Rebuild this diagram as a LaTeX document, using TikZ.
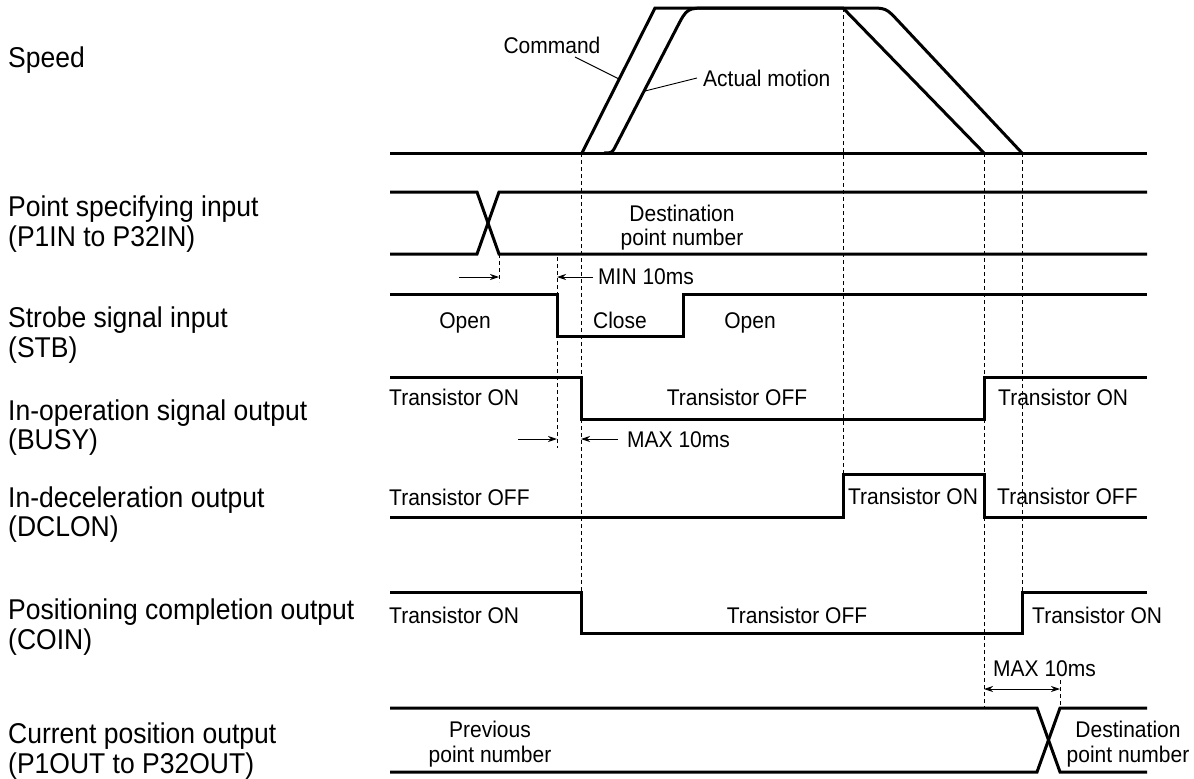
\documentclass[tikz,border=0pt]{standalone}
\usepackage{fontspec}
\usepackage{graphicx}
\setmainfont{Liberation Sans}
\usetikzlibrary{arrows.meta}
\newcommand{\tallt}[1]{\scalebox{1}[1.08]{#1}}
\begin{document}
\begin{tikzpicture}[x=1pt,y=-1pt,
  sig/.style={line width=3pt, line join=miter},
  guide/.style={line width=0.9pt, dash pattern=on 4pt off 3pt},
  lead/.style={line width=0.9pt},
  dimarrow/.style={line width=0.9pt, -{Stealth[length=9pt,width=6pt]}},
  dimboth/.style={line width=0.9pt, {Stealth[length=9pt,width=6pt]}-{Stealth[length=9pt,width=6pt]}},
  lbl/.style={font=\fontsize{26.5}{30}\selectfont, inner sep=0pt, anchor=base west},
  txt/.style={font=\fontsize{21}{25}\selectfont, inner sep=0pt, anchor=base},
  txtw/.style={font=\fontsize{21}{25}\selectfont, inner sep=0pt, anchor=base west}]
\useasboundingbox (0,0) rectangle (1194,779);

% ---------- left labels ----------
\node[lbl] (lSpeed) at (8,67) {\tallt{Speed}};
\node[lbl] (lPa) at (8,216) {\tallt{Point specifying input}};
\node[lbl] (lPb) at (8,246) {\tallt{(P1IN to P32IN)}};
\node[lbl] (lSa) at (8,327) {\tallt{Strobe signal input}};
\node[lbl] (lSb) at (8,357) {\tallt{(STB)}};
\node[lbl] (lBa) at (8,420) {\tallt{In-operation signal output}};
\node[lbl] (lBb) at (8,449) {\tallt{(BUSY)}};
\node[lbl] (lDa) at (8,507) {\tallt{In-deceleration output}};
\node[lbl] (lDb) at (8,536) {\tallt{(DCLON)}};
\node[lbl] (lCa) at (8,619) {\tallt{Positioning completion output}};
\node[lbl] (lCb) at (8,649) {\tallt{(COIN)}};
\node[lbl] (lQa) at (8,743) {\tallt{Current position output}};
\node[lbl] (lQb) at (8,773) {\tallt{(P1OUT to P32OUT)}};

% ---------- dashed guides ----------
\draw[guide] (499,254) -- (499,282);
\draw[guide] (557,257) -- (557,448);
\draw[guide] (581,153) -- (581,592);
\draw[guide] (843,8) -- (843,474);
\draw[guide] (984,153) -- (984,708);
\draw[guide] (1022,153) -- (1022,592);
\draw[guide] (1060,680) -- (1060,708);

% ---------- speed ----------
\draw[sig] (390,153) -- (1147,153);
\draw[sig] (582,153) -- (655,8) -- (843,8) -- (984,153);
\draw[sig] (604,153) .. controls (612,153) .. (615.7,145.9)
  -- (676.9,27.5) .. controls (687,8) .. (709,8)
  -- (868,8) .. controls (886,8) .. (898.3,21.1) -- (1022,153);
\node[txt] (tCmd) at (552,53) {\tallt{Command}};
\node[txtw] (tAct) at (703,86) {\tallt{Actual motion}};
\coordinate (cmdA) at (575,57);
\coordinate (cmdB) at (619,79);
\coordinate (actA) at (697,78);
\coordinate (actB) at (645,91);
\draw[lead] (cmdA) -- (cmdB);
\draw[lead] (actA) -- (actB);

% ---------- point specifying input ----------
\draw[sig] (390,192) -- (477,192) -- (499,254) -- (1147,254);
\draw[sig] (390,254) -- (477,254) -- (499,192) -- (1147,192);
\node[txt] (tDest1) at (682,221) {\tallt{Destination}};
\node[txt] (tDest2) at (682,245) {\tallt{point number}};

% MIN 10ms
\coordinate (minA0) at (459,277);
\coordinate (minA1) at (499,277);
\coordinate (minB0) at (593,277);
\coordinate (minB1) at (557,277);
\draw[dimarrow] (minA0) -- (minA1);
\draw[dimarrow] (minB0) -- (minB1);
\node[txtw] (tMin) at (598,284) {\tallt{MIN 10ms}};

% ---------- strobe ----------
\draw[sig] (390,294) -- (557,294) -- (557,336) -- (683,336) -- (683,294) -- (1147,294);
\node[txt] (tOpen1) at (465,328) {\tallt{Open}};
\node[txt] (tClose) at (620,328) {\tallt{Close}};
\node[txt] (tOpen2) at (750,328) {\tallt{Open}};

% ---------- busy ----------
\draw[sig] (390,377) -- (581,377) -- (581,419) -- (984,419) -- (984,377) -- (1147,377);
\node[txtw] (tB1) at (389,405) {\tallt{Transistor ON}};
\node[txt] (tB2) at (737,405) {\tallt{Transistor OFF}};
\node[txtw] (tB3) at (998,405) {\tallt{Transistor ON}};

% MAX 10ms
\coordinate (maxA0) at (518,439);
\coordinate (maxA1) at (557,439);
\coordinate (maxB0) at (618,439);
\coordinate (maxB1) at (581,439);
\draw[dimarrow] (maxA0) -- (maxA1);
\draw[dimarrow] (maxB0) -- (maxB1);
\node[txtw] (tMax1) at (627,447) {\tallt{MAX 10ms}};

% ---------- dclon ----------
\draw[sig] (390,517) -- (843,517) -- (843,474) -- (984,474) -- (984,517) -- (1147,517);
\node[txtw] (tD1) at (389,505) {\tallt{Transistor OFF}};
\node[txt] (tD2) at (913,504) {\tallt{Transistor ON}};
\node[txtw] (tD3) at (997,504) {\tallt{Transistor OFF}};

% ---------- coin ----------
\draw[sig] (390,592) -- (581,592) -- (581,633) -- (1022,633) -- (1022,592) -- (1147,592);
\node[txtw] (tC1) at (389,623) {\tallt{Transistor ON}};
\node[txt] (tC2) at (797,623) {\tallt{Transistor OFF}};
\node[txtw] (tC3) at (1032,623) {\tallt{Transistor ON}};

% MAX 10ms (bottom)
\coordinate (maxC0) at (984,689);
\coordinate (maxC1) at (1060,689);
\draw[dimboth] (maxC0) -- (maxC1);
\node[txtw] (tMax2) at (993,676) {\tallt{MAX 10ms}};

% ---------- current position ----------
\draw[sig] (390,708) -- (1037,708) -- (1060,772) -- (1147,772);
\draw[sig] (390,772) -- (1037,772) -- (1060,708) -- (1147,708);
\node[txt] (tPrev1) at (490,737) {\tallt{Previous}};
\node[txt] (tPrev2) at (490,762) {\tallt{point number}};
\node[txt] (tDst1) at (1128,737) {\tallt{Destination}};
\node[txt] (tDst2) at (1128,762) {\tallt{point number}};
\end{tikzpicture}
\end{document}
